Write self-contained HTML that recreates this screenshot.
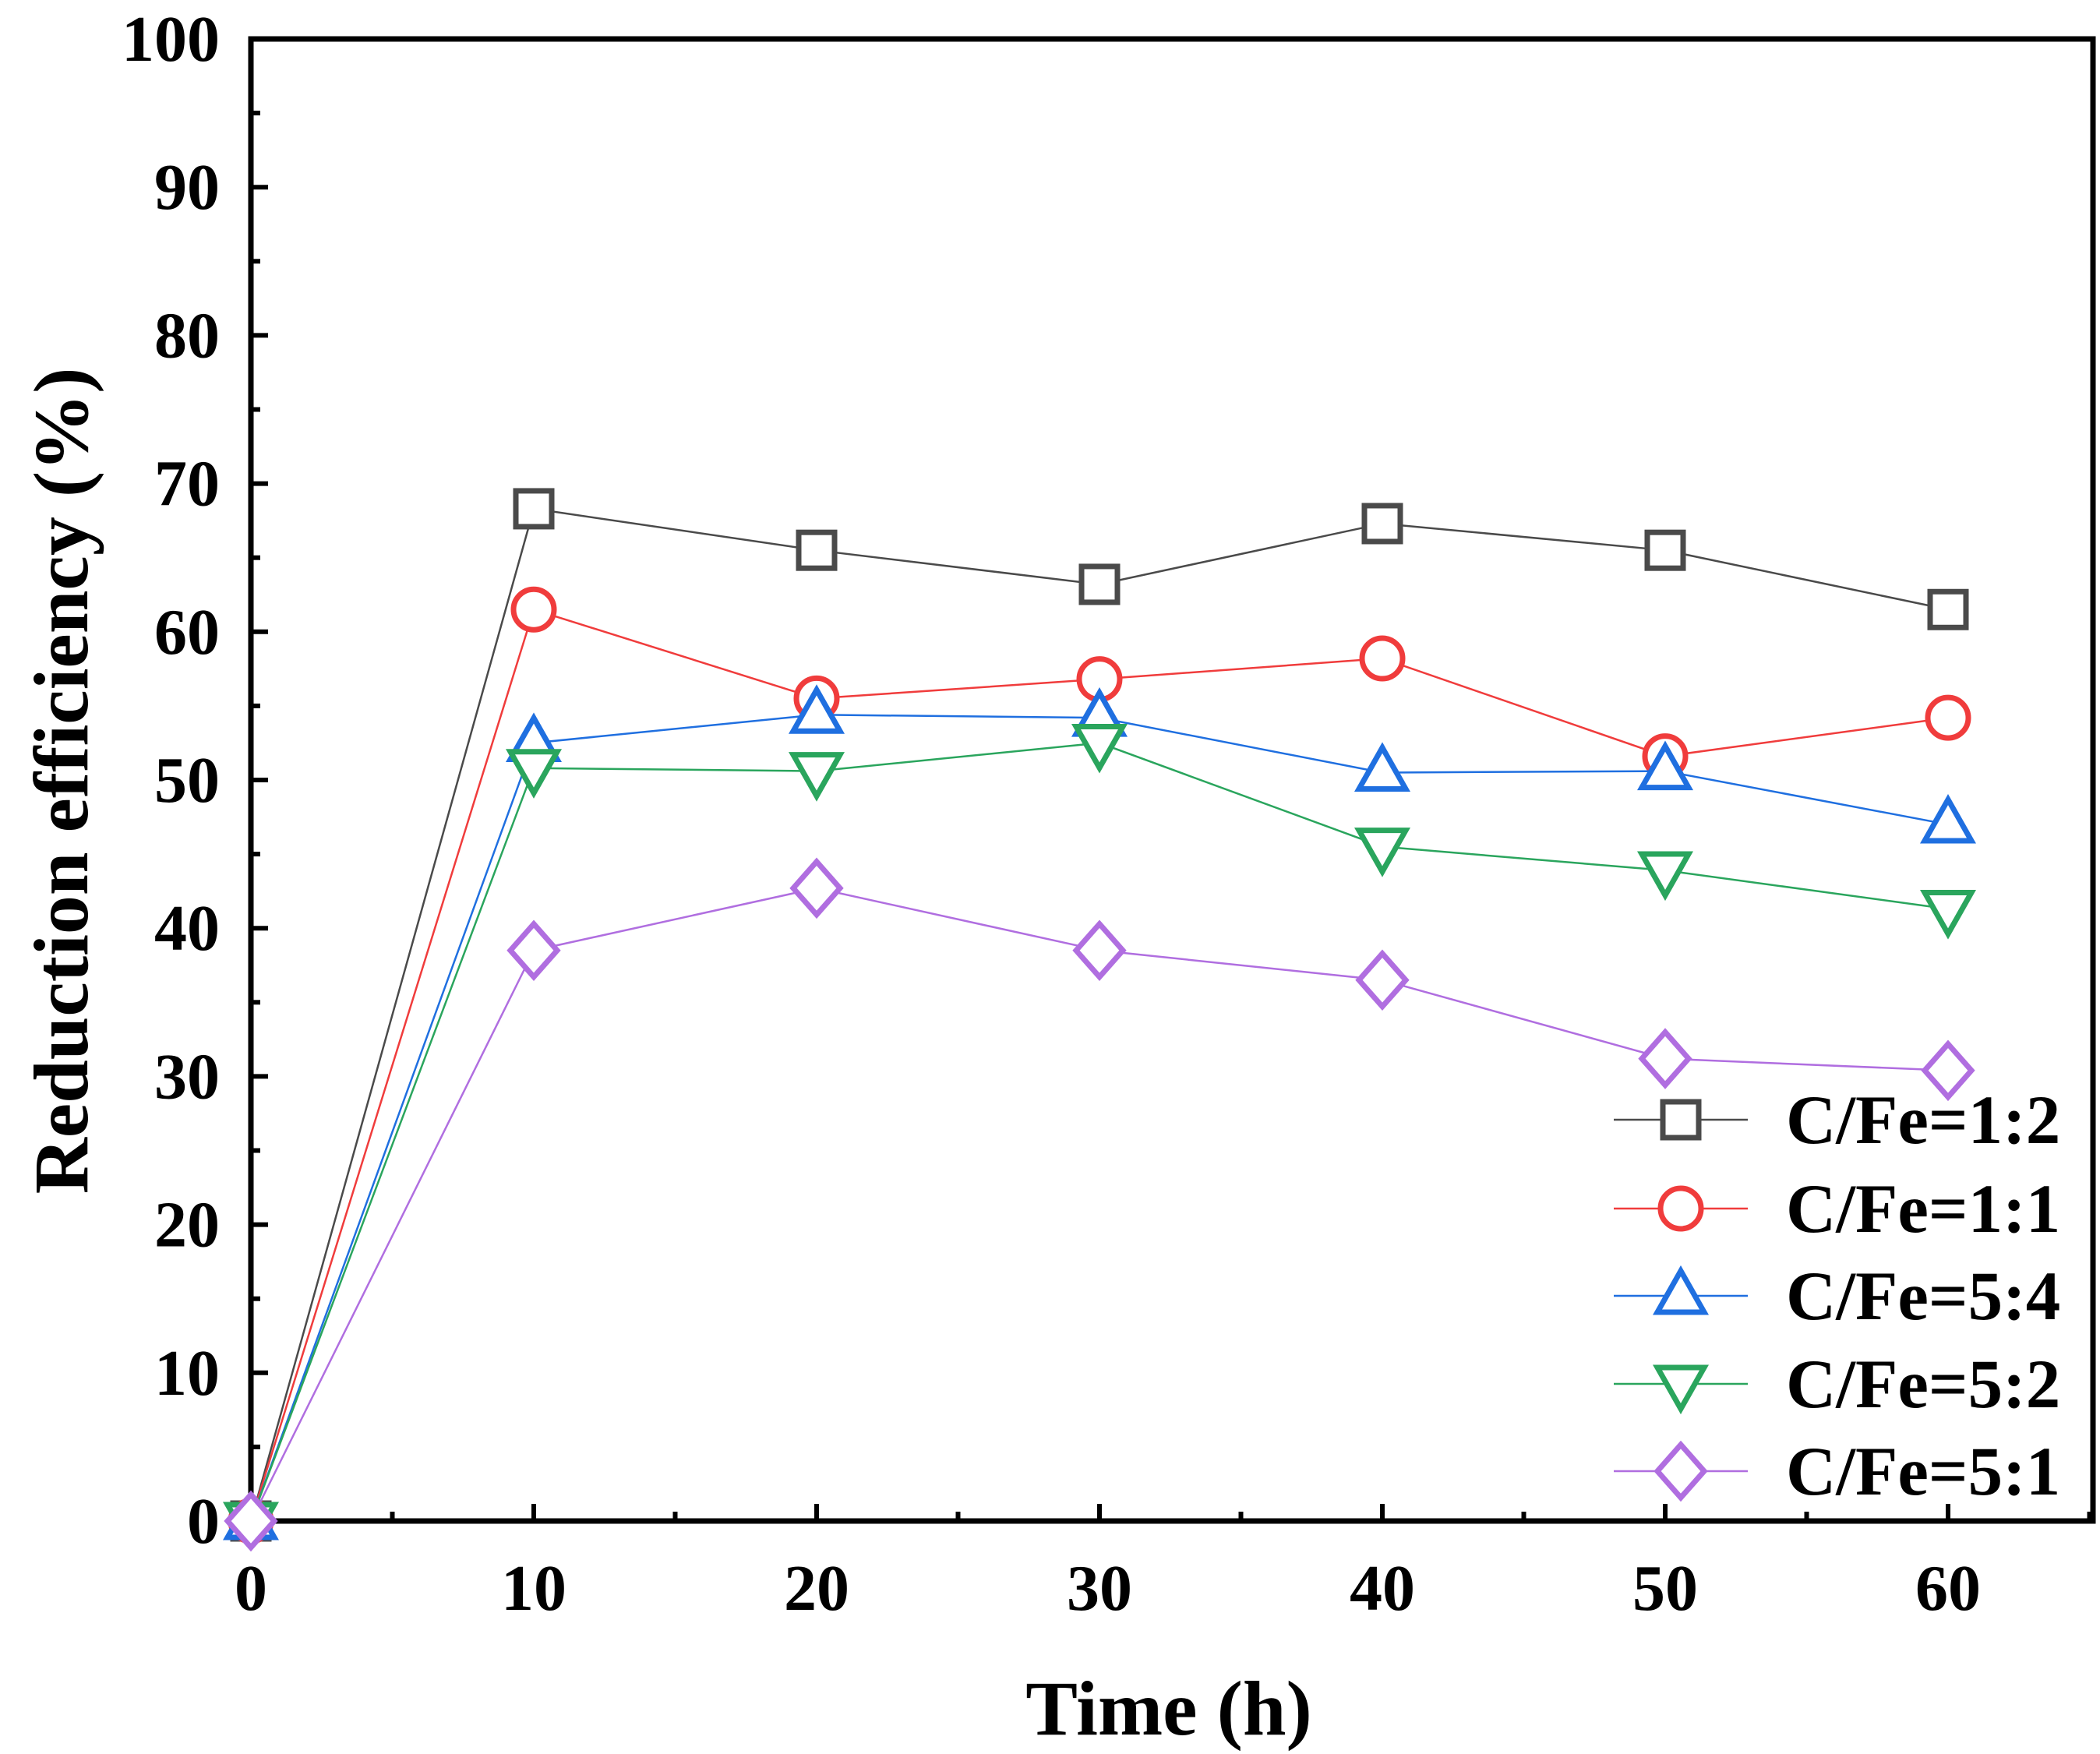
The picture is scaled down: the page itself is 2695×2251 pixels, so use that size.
<!DOCTYPE html>
<html><head><meta charset="utf-8"><style>html,body{margin:0;padding:0;background:#fff}svg{display:block}text{font-family:"Liberation Serif",serif;font-weight:bold;fill:#000}</style></head>
<body>
<svg id="chart" width="2695" height="2251" viewBox="0 0 2695 2251" xmlns="http://www.w3.org/2000/svg">
<g id="axes"></g>
<g id="series"></g>
<g id="legend"></g>
<text x="1500" y="2226" font-size="100" text-anchor="middle">Time (h)</text>
<text x="0" y="0" font-size="100" text-anchor="middle" transform="translate(112,1002) rotate(-90)">Reduction efficiency (%)</text>
</svg>
<script>
const times = [0, 10, 20, 30, 40, 50, 60];
const seriesNames = ["C/Fe=1:2", "C/Fe=1:1", "C/Fe=5:4", "C/Fe=5:2", "C/Fe=5:1"];
const s12 = [0, 68.3, 65.5, 63.2, 67.3, 65.5, 61.5];
const s11 = [0, 61.5, 55.5, 56.8, 58.2, 51.6, 54.2];
const s54 = [0, 52.5, 54.4, 54.2, 50.5, 50.6, 47.0];
const s52 = [0, 50.8, 50.6, 52.5, 45.5, 43.9, 41.3];
const s51 = [0, 38.5, 42.7, 38.5, 36.5, 31.2, 30.4];
const xTicks = [0, 10, 20, 30, 40, 50, 60];
const yTicks = [0, 10, 20, 30, 40, 50, 60, 70, 80, 90, 100];

const NS = "http://www.w3.org/2000/svg";
const X0 = 322, X1 = 2500, Y0 = 1952, Y1 = 50, RIGHT = 2686;
function xs(v){ return X0 + (v - 0) / 60 * (X1 - X0); }
function ys(v){ return Y0 - v / 100 * (Y0 - Y1); }
function mk(tag, attrs, parent){ const e = document.createElementNS(NS, tag); for (const k in attrs) e.setAttribute(k, attrs[k]); parent.appendChild(e); return e; }

const axes = document.getElementById('axes');
const frame = mk('rect', {x:X0, y:Y1, width:RIGHT-X0, height:Y0-Y1, fill:'none', stroke:'#000', 'stroke-width':7}, axes);


for (const t of yTicks) {
  const y = ys(t);
  const tk = mk('line', {x1:X0, x2:X0+22, y1:y, y2:y, stroke:'#000', 'stroke-width':6}, axes);
  
  
  if (t < 100) {
    const mt = mk('line', {x1:X0, x2:X0+12, y1:ys(t+5), y2:ys(t+5), stroke:'#000', 'stroke-width':6}, axes);
    
    
  }
  const lb = mk('text', {x:282, y:y+28, 'font-size':84, 'text-anchor':'end'}, axes);
  lb.textContent = t;
  
  
}
for (const t of xTicks) {
  const x = xs(t);
  const tk = mk('line', {x1:x, x2:x, y1:Y0, y2:Y0-22, stroke:'#000', 'stroke-width':6}, axes);
  
  
  const mx = xs(t+5);
  if (mx < RIGHT) {
    const mt = mk('line', {x1:mx, x2:mx, y1:Y0, y2:Y0-12, stroke:'#000', 'stroke-width':6}, axes);
    
    
  }
  const lb = mk('text', {x:x, y:2066, 'font-size':84, 'text-anchor':'middle'}, axes);
  lb.textContent = t;
  
  
}

const styles = [
  {vals:s12, color:'#4a4a4a', shape:'square'},
  {vals:s11, color:'#f03c3c', shape:'circle'},
  {vals:s54, color:'#1f6fe0', shape:'up'},
  {vals:s52, color:'#2aa55d', shape:'down'},
  {vals:s51, color:'#b06ee0', shape:'diamond'}
];
function marker(shape, cx, cy, color, parent){
  const a = {fill:'#fff', stroke:color, 'stroke-width':7};
  let e;
  if (shape === 'square') e = mk('rect', Object.assign({x:cx-23, y:cy-23, width:46, height:46}, a), parent);
  else if (shape === 'circle') e = mk('circle', Object.assign({cx:cx, cy:cy, r:26}, a), parent);
  else if (shape === 'up') e = mk('polygon', Object.assign({points:`${cx},${cy-32} ${cx+30},${cy+21} ${cx-30},${cy+21}`}, a), parent);
  else if (shape === 'down') e = mk('polygon', Object.assign({points:`${cx},${cy+32} ${cx+30},${cy-21} ${cx-30},${cy-21}`}, a), parent);
  else e = mk('polygon', Object.assign({points:`${cx},${cy-34} ${cx+30},${cy} ${cx},${cy+34} ${cx-30},${cy}`}, a), parent);
  return e;
}
const sg = document.getElementById('series');
styles.forEach((s, i) => {
  const g = mk('g', {}, sg);
  
  
  const pts = s.vals.map((v, j) => xs(times[j]) + ',' + ys(v)).join(' ');
  const ln = mk('polyline', {points:pts, fill:'none', stroke:s.color, 'stroke-width':2.5}, g);
  
  
  s.vals.forEach((v, j) => {
    const m = marker(s.shape, xs(times[j]), ys(v), s.color, g);
    
    
  });
});
const lg = document.getElementById('legend');
const rowY = [1437, 1551, 1663, 1776, 1888];
styles.forEach((s, i) => {
  const g = mk('g', {}, lg);
  
  
  const y = rowY[i];
  mk('line', {x1:2071, x2:2243, y1:y, y2:y, stroke:s.color, 'stroke-width':2.5}, g);
  marker(s.shape, 2157, y, s.color, g);
  const t = mk('text', {x:2292, y:y+30, 'font-size':89}, g);
  t.textContent = seriesNames[i];
});
</script>
</body></html>
